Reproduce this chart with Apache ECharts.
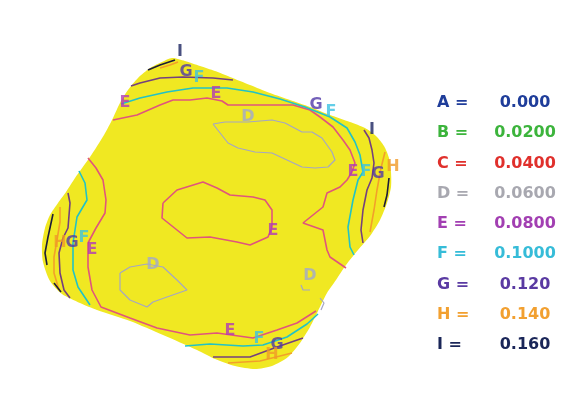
<!DOCTYPE html>
<html>
<head>
<meta charset="utf-8">
<script src="https://cdn.jsdelivr.net/npm/echarts@6/dist/echarts.min.js"></script>
<style>
  html, body { margin: 0; padding: 0; background: #ffffff; }
  #chart { width: 572px; height: 399px; }
</style>
</head>
<body>
<div id="chart"></div>
<script>
// Contour levels shown in the key
const levelNames  = ['A', 'B', 'C', 'D', 'E', 'F', 'G', 'H', 'I'];
const levelValues = ['0.000', '0.0200', '0.0400', '0.0600', '0.0800', '0.1000', '0.120', '0.140', '0.160'];
const levelColors = ['#1f3d9a', '#3cb43c', '#e0302c', '#a8a8b0', '#a23fb2', '#36bcd8', '#5a3aa2', '#f2a030', '#1a2658'];

// Sample outline (plate coordinates, mm)
const outline = [
  [71,161],[77.5,159.5],[85,157],[92.5,154.5],[100,151.5],[110,147.5],[120,143.5],[130,140],
  [140,136.5],[150,132.5],[160,129],[167.5,126],[173,122],[177,117],[179.5,111],[180.5,104],
  [180.5,96.5],[178.5,88.5],[175,80],[170,72],[164,65],[158,57.5],[153,50],[148.5,43.5],
  [144,34.5],[140,26.5],[135,18.5],[129,11.5],[121,7],[112.5,5.5],[102.5,7],[92.5,10.5],
  [83.5,15],[66.5,22.5],[50,29.5],[33.5,35],[25,38.5],[16,43],[10,49.5],[6.5,59],[6,67.5],
  [7.5,76],[10,82.5],[14,88.5],[18,94],[22.5,101],[30,111.5],[37,122.5],[41.5,131],[45,138.5],
  [49,145],[54,151],[60,156],[66,159]
];

// Iso-lines, one array of polylines per level
const contourD = [
  [[91.5,128],[97.5,129],[109,129],[121,130],[127.5,128.5],[136,124],[141,124],[146,121],[151,114],
   [152.5,110],[149,106.5],[142.5,106],[136,106.5],[121,113.5],[112.5,114],[104,116],[99,118.5],[91.5,128]],
  [[45,53.5],[50,56.5],[58.5,58],[66.5,56.5],[73.5,50],[78.5,45],[68.5,41.5],[61.5,39],[58.5,36.5],
   [50,40],[45,45],[45,53.5]],
  [[135.5,47.5],[136.5,45],[140,45]],
  [[145,41],[147,38.5],[145.5,35]]
];
const contourE = [
  [[41.5,130],[53.5,132.5],[65,137.5],[71.5,140],[80,140],[88.5,141],[96,139.5],[99,137.5],[115,137.5],
   [131.5,137.5],[140,135],[145,131.5],[151.5,126.5],[156.5,120],[160,115],[162.5,108.5],[161,104],
   [158.5,100],[155,96.5],[148.5,93.5],[146.5,86.5],[136.5,78.5],[146.5,75],[148.5,65],[150,61.5],[158,56]],
  [[29,111],[33,106],[36.5,100],[38,90],[37.5,83.5],[33,76],[29,68.5],[29,56.5],[31,45],[35.5,36.5],
   [50,31],[63.5,26],[80,22.5],[93.5,23.5],[111.5,21],[123.5,25],[133.5,28.5],[143,34.5]],
  [[66.5,88.5],[73.5,95],[86.5,99],[93.5,96],[100,92.5],[111.5,91.5],[117.5,90],[121,85],[121,76.5],
   [119,71.5],[110,67.5],[103.5,69],[90,71.5],[78.5,71],[73.5,75],[66,81],[66.5,88.5]]
];
const contourF = [
  [[45.5,138],[55,141],[68.5,144],[81.5,146],[98.5,146],[111.5,144],[125,140.5],[137.5,136.5],[150,131.5],
   [158.5,126],[162.5,119],[165,112.5],[166.5,104],[164,100],[161.5,90],[159,76.5],[160,66.5],[162,62.5]],
  [[24.5,104.5],[27.5,98.5],[28.5,90],[23.5,81.5],[21.5,68.5],[21.5,55],[24,46.5],[30,37.5]],
  [[77.5,17],[90,18],[106.5,17],[116.5,17.5],[128.5,21.5],[138.5,28],[144,33]]
];
const contourG = [
  [[50.5,147],[55,148.5],[65,151],[76.5,151.5],[91.5,151],[101.5,150]],
  [[167,125],[169.5,121],[171,115],[172,108.5],[171,101],[168.5,95],[166.5,85],[165.5,75],[166.5,68.5]],
  [[19,93.5],[20,88.5],[19,76],[16.5,71],[14.5,63.5],[15,53.5],[17,45],[20,41]],
  [[91.5,11.5],[110,11.5],[123.5,16.5],[136.5,21]]
];
const contourH = [
  [[65,156],[70,157.5],[74,159]],
  [[177.5,114],[175.5,106],[173.5,95],[172,85],[170,74]],
  [[15,86.5],[15,79],[13.5,70],[12,61.5],[12,53.5],[14.5,45]],
  [[99,8.5],[115,9.5],[131,13.5]]
];
const contourI = [
  [[59,155],[65,157.5],[72.5,160]],
  [[179.5,101],[178.5,92.5],[177,86.5]],
  [[11.5,83],[9,71.5],[7.5,63.5],[8.5,57.5]],
  [[12,48.5],[15.5,44]]
];

// In-plot level tags: [x, y]
const tagsD = [[109,131.5],[61.5,57.5],[140,52]];
const tagsE = [[47.5,138.5],[93,143],[161.5,104],[31,65],[121.5,74.5],[100,24.5]];
const tagsF = [[84.5,151],[150.5,134],[168,104],[27,71],[114.5,20.5]];
const tagsG = [[78,154],[143,137.5],[174,103],[21,68.5],[123.5,17.5]];
const tagsH = [[181.5,106.5],[15,68.5],[121,12.5]];
const tagsI = [[75,164],[171,125]];

const lineColors = { D: '#a4a6c4', E: '#e0557c', F: '#22c2c6', G: '#74407e', H: '#f2a02a', I: '#1c1c3a' };
const tagColors  = { D: '#a0a8d0', E: '#b03ab8', F: '#3cc2e2', G: '#5038a8', H: '#f09a28', I: '#1c2460' };

const FONT = '"DejaVu Sans", Verdana, sans-serif';

const chart = echarts.init(document.getElementById('chart'), null, { renderer: 'canvas' });

const series = [];

// Filled sample area
series.push({
  type: 'custom',
  silent: true,
  z: 1,
  data: [0],
  renderItem: function (params, api) {
    const pts = outline.map(p => api.coord(p));
    return {
      type: 'polygon',
      shape: { points: pts, smooth: 0.25 },
      style: { fill: '#f0e822', stroke: null }
    };
  }
});

function addLines(level, polylines) {
  polylines.forEach(function (pl) {
    series.push({
      type: 'line',
      z: 2,
      silent: true,
      showSymbol: false,
      symbol: 'none',
      data: pl,
      lineStyle: { color: lineColors[level], width: level === 'D' ? 1.2 : 1.6 }
    });
  });
}
addLines('D', contourD);
addLines('E', contourE);
addLines('F', contourF);
addLines('G', contourG);
addLines('H', contourH);
addLines('I', contourI);

function addTags(level, tags) {
  series.push({
    type: 'scatter',
    z: 3,
    silent: true,
    symbolSize: 1,
    itemStyle: { color: 'rgba(0,0,0,0)' },
    data: tags,
    label: {
      show: true,
      position: 'inside',
      formatter: level,
      color: tagColors[level],
      fontFamily: FONT,
      fontWeight: 'bold',
      fontSize: 16
    }
  });
}
addTags('D', tagsD);
addTags('E', tagsE);
addTags('F', tagsF);
addTags('G', tagsG);
addTags('H', tagsH);
addTags('I', tagsI);

// Key on the right
const keyItems = [];
levelNames.forEach(function (n, i) {
  const y = 103 + i * 30.25;
  keyItems.push({
    type: 'text', x: 437, y: y,
    style: { text: n + ' =', fill: levelColors[i], align: 'left', verticalAlign: 'middle',
             font: 'bold 16px ' + FONT }
  });
  keyItems.push({
    type: 'text', x: 525, y: y,
    style: { text: levelValues[i], fill: levelColors[i], align: 'center', verticalAlign: 'middle',
             font: 'bold 16px ' + FONT }
  });
});

chart.setOption({
  backgroundColor: '#ffffff',
  animation: false,
  grid: { left: 30, top: 40, width: 380, height: 340 },
  xAxis: { type: 'value', min: 0, max: 190, show: false },
  yAxis: { type: 'value', min: 0, max: 170, show: false },
  graphic: keyItems,
  series: series
});
</script>
</body>
</html>
